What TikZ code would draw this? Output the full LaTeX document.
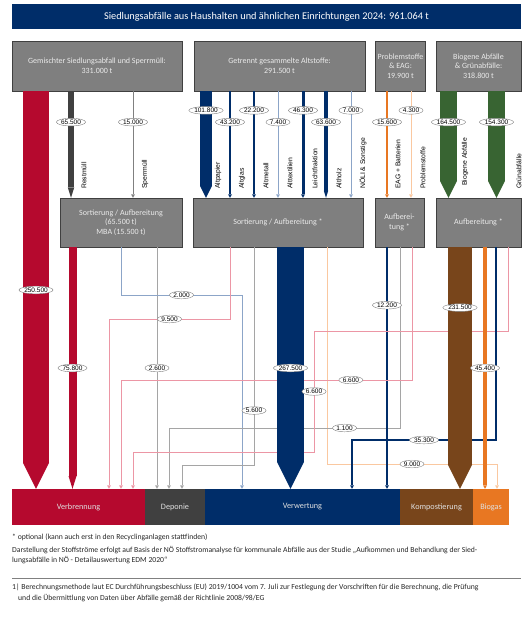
\documentclass[tikz,border=0pt]{standalone}
\usepackage{fontspec}
\setmainfont{Carlito}
\newfontfamily\arialfont{Liberation Sans}
\usepackage{tikz}
\usetikzlibrary{arrows.meta,shapes.geometric}

\definecolor{navy}{RGB}{0,45,105}
\definecolor{wred}{RGB}{181,9,46}
\definecolor{dgray}{RGB}{64,64,64}
\definecolor{bgray}{RGB}{127,127,127}
\definecolor{wbrown}{RGB}{120,69,27}
\definecolor{worange}{RGB}{232,119,34}
\definecolor{wgreen}{RGB}{56,100,50}
\definecolor{lblue}{RGB}{140,165,200}
\definecolor{lpink}{RGB}{236,150,165}
\definecolor{lorange}{RGB}{250,200,160}
\definecolor{lgray}{RGB}{165,165,165}

\begin{document}
\begin{tikzpicture}[x=1pt, y=-1pt,
    box/.style={draw=dgray, fill=bgray, text=white!92!black, align=center, inner sep=2pt, font=\fontsize{8}{9.5}\selectfont},
    sink/.style={fill=#1, text=white!88!black, minimum height=36pt, inner sep=0pt, font=\fontsize{8.2}{9.5}\selectfont},
    lab/.style={ellipse, draw=gray, line width=0.4pt, fill=white, text=black, inner sep=0.4pt, font=\arialfont\fontsize{6.5}{7}\selectfont},
    vlabel/.style={rotate=90, anchor=west, inner sep=0pt, font=\arialfont\fontsize{6.8}{8}\selectfont},
    note/.style={inner sep=0pt, text=black!85, font=\fontsize{7.7}{10.5}\selectfont},
    bar/.style={line width=#1, -{Triangle[width=0pt 1, length=0pt 1, line width=0pt]}},
    barlong/.style={line width=#1, -{Triangle[width=0pt 1, length=0pt 1.6, line width=0pt]}},
    arr/.style={line width=#1, -{Triangle[width=4pt, length=3.5pt, line width=0pt]}},
  ]
  \useasboundingbox (0,0) rectangle (529,621);

  \node[fill=navy, text=white, minimum width=509pt, minimum height=25pt, font=\fontsize{10.3}{12}\selectfont] (title) at (266.5,16.5) {Siedlungsabfälle aus Haushalten und ähnlichen Einrichtungen 2024: 961.064 t};

  % Sammlung
  \node[box, minimum width=170pt, minimum height=50pt] (gem) at (97,66) {Gemischter Siedlungsabfall und Sperrmüll:\\331.000 t};
  \node[box, minimum width=171pt, minimum height=50pt] (alt) at (279.5,66) {Getrennt gesammelte Altstoffe:\\291.500 t};
  \node[box, minimum width=50pt, minimum height=50pt, inner sep=0pt] (prob) at (400.5,66) {Problemstoffe\\\& EAG:\\19.900 t};
  \node[box, minimum width=85pt, minimum height=50pt] (bio) at (478.5,66) {Biogene Abfälle\\\& Grünabfälle:\\318.800 t};

  % Behandlung
  \node[box, minimum width=122pt, minimum height=49pt] (sortmix) at (121,222.5) {Sortierung / Aufbereitung\\(65.500 t)\\MBA (15.500 t)};
  \node[box, minimum width=170pt, minimum height=49pt] (sortalt) at (278,222.5) {Sortierung / Aufbereitung *};
  \node[box, minimum width=49pt, minimum height=49pt] (aufprob) at (399.5,222.5) {Aufberei-\\tung *};
  \node[box, minimum width=85pt, minimum height=49pt] (aufbio) at (478.5,222.5) {Aufbereitung *};

  % Verbleib
  \node[sink=wred, minimum width=133pt] (verb) at (78.5,507) {Verbrennung};
  \node[sink=dgray, minimum width=60pt] (dep) at (175,507) {Deponie};
  \node[sink=navy, minimum width=195pt] (verw) at (302.5,507) {Verwertung};
  \node[sink=wbrown, minimum width=73pt] (komp) at (436.5,507) {Kompostierung};
  \node[sink=worange, minimum width=36pt] (biogas) at (491,507) {Biogas};

  % Stroeme zur Sortierung
  \draw[barlong=6.5pt, dgray] (71,0 |- gem.south) -- node[lab, pos=.29]{65.500} (71,0 |- sortmix.north);
  \draw[arr=0.8pt, gray] (133,0 |- gem.south) -- node[lab, pos=.29]{15.000} (133,0 |- sortmix.north);
  \draw[bar=12pt, navy] (206,0 |- alt.south) -- node[lab, pos=.18]{101.800} (206,0 |- sortalt.north);
  \draw[arr=2.7pt, navy] (230,0 |- alt.south) -- node[lab, pos=.29]{43.200} (230,0 |- sortalt.north);
  \draw[arr=1.5pt, navy] (254,0 |- alt.south) -- node[lab, pos=.18]{22.200} (254,0 |- sortalt.north);
  \draw[arr=0.8pt, lblue] (278,0 |- alt.south) -- node[lab, pos=.29]{7.400} (278,0 |- sortalt.north);
  \draw[arr=3pt, navy] (303,0 |- alt.south) -- node[lab, pos=.18]{46.300} (303,0 |- sortalt.north);
  \draw[barlong=4.5pt, navy] (326,0 |- alt.south) -- node[lab, pos=.29]{63.600} (326,0 |- sortalt.north);
  \draw[arr=0.8pt, lblue] (351,0 |- alt.south) -- node[lab, pos=.18]{7.000} (351,0 |- sortalt.north);
  \draw[arr=1.2pt, worange] (387,0 |- prob.south) -- node[lab, pos=.29]{15.600} (387,0 |- aufprob.north);
  \draw[arr=0.8pt, lorange] (411,0 |- prob.south) -- node[lab, pos=.18]{4.300} (411,0 |- aufprob.north);
  \draw[bar=17pt, wgreen] (448.5,0 |- bio.south) -- node[lab, pos=.29]{164.500} (448.5,0 |- aufbio.north);
  \draw[bar=17pt, wgreen] (496.5,0 |- bio.south) -- node[lab, pos=.29]{154.300} (496.5,0 |- aufbio.north);

  \node[vlabel] (trest) at (84,189) {Restmüll};
  \node[vlabel] (tsperr) at (145,189) {Sperrmüll};
  \node[vlabel] (tpapier) at (218,189) {Altpapier};
  \node[vlabel] (tglas) at (242,189) {Altglas};
  \node[vlabel] (tmetall) at (266,189) {Altmetall};
  \node[vlabel] (ttextil) at (290,189) {Alttextilien};
  \node[vlabel] (tleicht) at (315,189) {Leichtfraktion};
  \node[vlabel] (tholz) at (339,189) {Altholz};
  \node[vlabel] (tnoeli) at (363,189) {NÖLI \& Sonstige};
  \node[vlabel] (teag) at (398,189) {EAG + Batterien};
  \node[vlabel] (tprob) at (423,189) {Problemstoffe};
  \node[vlabel] (tbiog) at (465,186) {Biogene Abfälle};
  \node[vlabel] (tgruen) at (519,189) {Grünabfälle};

  % Stroeme zum Verbleib
  \draw[arr=0.8pt, lgray] (157,0 |- sortmix.south) -- node[lab]{2.600} (157,0 |- dep.north);
  \draw[arr=0.8pt, lblue] (121,0 |- sortmix.south) -- (121,295) -- node[lab]{2.000} (242,295) -- (242,0 |- verw.north);
  \draw[arr=0.8pt, lpink] (230,0 |- sortalt.south) -- (230,319) -- node[lab]{9.500} (109,319) -- (109,0 |- verb.north);
  \draw[arr=0.8pt, lgray] (254,0 |- sortalt.south) -- node[lab, pos=.75]{5.600} (254,465) -- (182,465) -- (182,0 |- dep.north);
  \draw[arr=0.8pt, lorange] (327,0 |- sortalt.south) -- (327,464) -- node[lab]{9.000} (497,464) -- (497,0 |- biogas.north);
  \draw[arr=0.8pt, lgray] (400,0 |- aufprob.south) -- (400,428) -- node[lab, pos=.24]{1.100} (169,428) -- (169,0 |- dep.north);
  \draw[arr=1.2pt, navy] (387,0 |- aufprob.south) -- node[lab, pos=.24]{12.200} (387,0 |- verw.north);
  \draw[arr=0.8pt, lpink] (412,0 |- aufprob.south) -- (412,380) -- node[lab, pos=.21]{6.600} (121,380) -- (121,0 |- verb.north);
  \draw[arr=0.8pt, lpink] (508,0 |- aufbio.south) -- (508,331) -- (314,331) -- coordinate (biopink) (314,452) -- (133,452) -- (133,0 |- verb.north);
  \draw[arr=2.5pt, navy] (496,0 |- aufbio.south) -- (496,440) -- node[lab]{35.300} (352,440) -- (352,0 |- verw.north);

  \draw[bar=26pt, wred] (36,0 |- gem.south) -- node[lab]{250.500} (36,0 |- verb.north);
  \draw[barlong=8pt, wred] (72.5,0 |- sortmix.south) -- node[lab]{75.800} (72.5,0 |- verb.north);
  \draw[bar=27pt, navy] (290.5,0 |- sortalt.south) -- node[lab]{267.500} (290.5,0 |- verw.north);
  \draw[bar=24pt, wbrown] (460,0 |- aufbio.south) -- node[lab, pos=.25]{231.500} (460,0 |- komp.north);
  \draw[arr=4pt, worange] (485,0 |- aufbio.south) -- node[lab]{45.400} (485,0 |- biogas.north);
  \node[lab] (lbiopink) at (biopink) {6.600};

  % Fussnoten
  \node[note, anchor=base west] (opt) at (12,539.5) {* optional (kann auch erst in den Recyclinganlagen stattfinden)};
  \node[note, anchor=base west, align=left] (basis) at (12,562.5) {Darstellung der Stoffströme erfolgt auf Basis der NÖ Stoffstromanalyse für kommunale Abfälle aus der Studie „Aufkommen und Behandlung der Sied-\\lungsabfälle in NÖ - Detailauswertung EDM 2020“};
  \draw[gray, line width=0.6pt] (12,578) -- (521,578);
  \node[note, anchor=base west, align=left] (fn) at (12,600) {1| Berechnungsmethode laut EC Durchführungsbeschluss (EU) 2019/1004 vom 7. Juli zur Festlegung der Vorschriften für die Berechnung, die Prüfung\\\hspace*{6pt}und die Übermittlung von Daten über Abfälle gemäß der Richtlinie 2008/98/EG};
\end{tikzpicture}
\end{document}
